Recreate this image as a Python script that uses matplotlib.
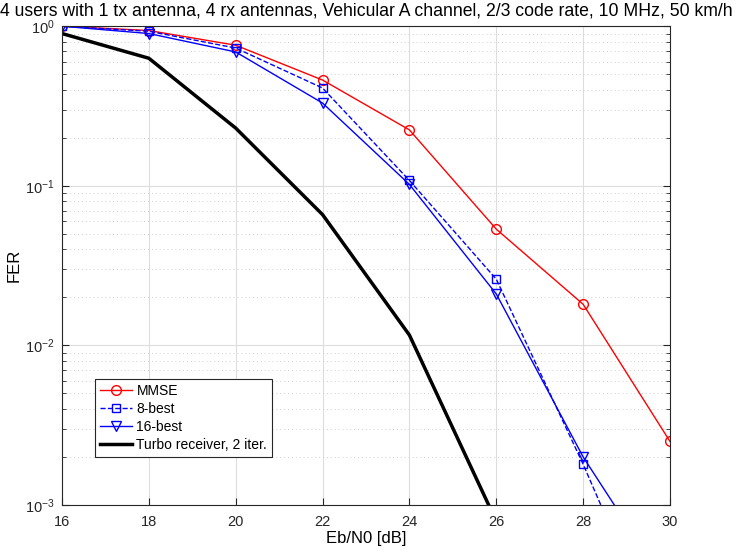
import numpy as np
import matplotlib.pyplot as plt
from matplotlib.ticker import LogLocator, NullFormatter

plt.rcParams['font.family'] = ['Liberation Sans', 'DejaVu Sans']
plt.rcParams['mathtext.fontset'] = 'custom'
plt.rcParams['mathtext.rm'] = 'Liberation Sans'
plt.rcParams['mathtext.it'] = 'Liberation Sans'
plt.rcParams['mathtext.default'] = 'regular'

snr = [16, 18, 20, 22, 24, 26, 28, 30]
fer_mmse = [1.0, 0.94, 0.76, 0.46, 0.224, 0.0535, 0.0181, 0.0025]
fer_8best = [1.0, 0.93, 0.73, 0.41, 0.108, 0.026, 0.0018, 0.0001]
fer_16best = [1.0, 0.90, 0.69, 0.33, 0.102, 0.021, 0.0020, 0.00029]
snr_turbo = [16, 18, 20, 22, 24, 26]
fer_turbo = [0.90, 0.63, 0.23, 0.066, 0.0116, 0.00079]

fig = plt.figure(figsize=(7.37, 5.58), dpi=100)
ax = fig.add_axes([0.0841, 0.095, 0.825, 0.858])

ax.semilogy(snr, fer_mmse, '-o', color='red', lw=1, ms=7, mfc='none', label='MMSE')
ax.semilogy(snr, fer_8best, '--s', color='blue', lw=1, ms=6, mfc='none', label='8-best')
ax.semilogy(snr, fer_16best, '-v', color='blue', lw=1, ms=7, mfc='none', label='16-best')
ax.semilogy(snr_turbo, fer_turbo, '-', color='black', lw=2.5, label='Turbo receiver, 2 iter.')

ax.set_xlim(16, 30)
ax.set_ylim(1e-3, 1)
ax.set_xticks(range(16, 31, 2))
ax.yaxis.set_major_locator(LogLocator(base=10, numticks=10))
ax.yaxis.set_minor_locator(LogLocator(base=10, subs=np.arange(2, 10), numticks=10))
ax.yaxis.set_minor_formatter(NullFormatter())

ax.grid(True, which='major', color='#dddddd', lw=0.8, ls='-')
ax.grid(True, which='minor', axis='y', color='#d0d0d0', lw=0.7, ls=(0, (1, 3)))
ax.set_axisbelow(True)

ax.tick_params(which='both', direction='in', top=False, right=True, labelsize=10.5,
               colors='#262626')
ax.tick_params(axis='x', pad=7)
ax.tick_params(axis='y', pad=5)
ax.tick_params(which='major', length=5)
ax.tick_params(which='minor', length=3)
for s in ax.spines.values():
    s.set_color('#262626')

ax.set_xlabel('Eb/N0 [dB]', fontsize=12, labelpad=2)
ax.set_ylabel('FER', fontsize=12, labelpad=3)
ax.set_title('4 users with 1 tx antenna, 4 rx antennas, Vehicular A channel, 2/3 code rate, 10 MHz, 50 km/h',
             fontsize=12.7, pad=8)

leg = ax.legend(loc='lower left', bbox_to_anchor=(0.055, 0.1), fontsize=10, fancybox=False,
                framealpha=1, edgecolor='#262626', borderpad=0.35, labelspacing=0.3,
                handlelength=2.3, handletextpad=0.3, borderaxespad=0)
leg.get_frame().set_linewidth(0.8)

fig.savefig('out.png', dpi=100)
